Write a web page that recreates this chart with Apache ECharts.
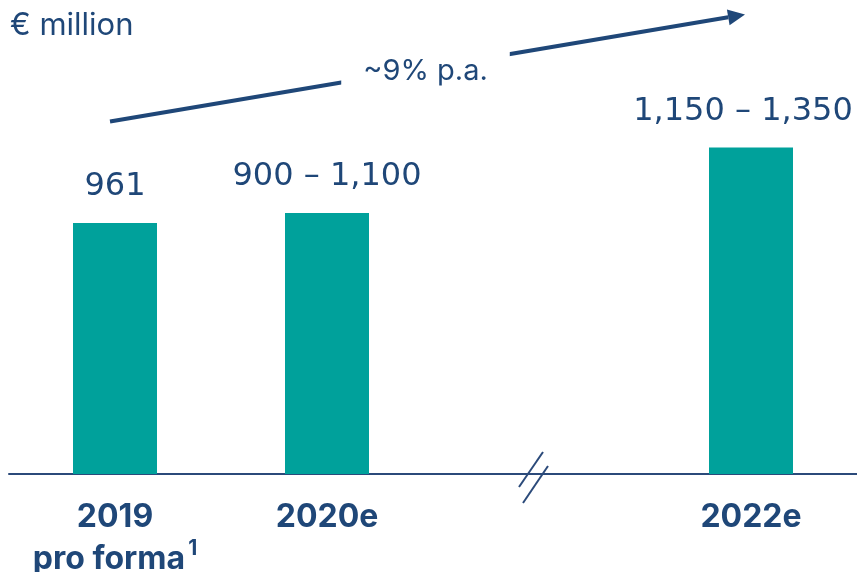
<!DOCTYPE html>
<html>
<head>
<meta charset="utf-8">
<script src="https://cdn.jsdelivr.net/npm/echarts@6/dist/echarts.min.js"></script>
<style>
html, body { margin: 0; padding: 0; background: #fff; }
#main { width: 857px; height: 572px; }
</style>
</head>
<body>
<div id="main"></div>
<script>
// data (ranges drawn at their midpoint)
var categories = ['2019', '2020e', '2021', '2022e'];
var values = [961, 1000, null, 1250];
var valueLabels = ['961', '900 – 1,100', '', '1,150 – 1,350'];
var growthText = '~9% p.a.';
var unitText = '€ million';

var navy = '#1f4778';
var teal = '#00a19b';
var font = 'Inter';
var numFont = 'DejaVu Sans';

var chart = echarts.init(document.getElementById('main'));

// last label sits a little left so it stays inside the picture
var barData = values.map(function (v, i) {
  var item = { value: v };
  if (i === values.length - 1) item.label = { offset: [-8, 0] };
  return item;
});

var option = {
  animation: false,
  title: {
    text: unitText,
    left: 5, top: 5,
    textStyle: { color: navy, fontSize: 31, fontWeight: 'normal', fontFamily: font }
  },
  grid: { left: 9, right: 0, top: 4, bottom: 98, outerBoundsMode: 'none' },
  xAxis: {
    type: 'category',
    data: categories,
    axisLine: { lineStyle: { color: '#2b4a7a', width: 2 } },
    axisTick: { show: false },
    axisLabel: {
      margin: 22,
      interval: 0,
      formatter: function (v, i) {
        if (v === '2021') return '';
        if (i === 0) return '{b|' + v + '}\n{b|pro forma}{s|1}';
        return '{b|' + v + '}';
      },
      rich: {
        b: { color: navy, fontSize: 32, fontWeight: 'bold', fontFamily: font, lineHeight: 42 },
        s: { color: navy, fontSize: 21, fontWeight: 'bold', fontFamily: font, verticalAlign: 'top', padding: [0, 0, 14, 3] }
      }
    }
  },
  yAxis: { type: 'value', min: 0, max: 1800, show: false, splitLine: { show: false } },
  series: [{
    type: 'bar',
    data: barData,
    barWidth: 84,
    itemStyle: { color: teal },
    label: {
      show: true,
      position: 'top',
      distance: 20,
      color: navy,
      fontSize: 32,
      fontFamily: numFont,
      formatter: function (p) { return valueLabels[p.dataIndex]; }
    }
  }]
};
chart.setOption(option);

// annotations placed through the chart's own scales
var breakPt = chart.convertToPixel({ seriesIndex: 0 }, ['2021', 0]);
var bx = breakPt[0] - 4, by = breakPt[1];
var a0 = chart.convertToPixel({ seriesIndex: 0 }, ['2019', 1350]);
var a1 = chart.convertToPixel({ seriesIndex: 0 }, ['2022e', 1760]);
var x0 = a0[0] - 5, y0 = a0[1], x1 = a1[0] - 6, y1 = a1[1];
var dx = x1 - x0, dy = y1 - y0, len = Math.sqrt(dx * dx + dy * dy);
var ux = dx / len, uy = dy / len;
var headL = 17, headW = 8;
var hbx = x1 - ux * headL, hby = y1 - uy * headL;

chart.setOption({
  graphic: [
    {
      type: 'line',
      shape: { x1: x0, y1: y0, x2: hbx, y2: hby },
      style: { stroke: navy, lineWidth: 4 }
    },
    {
      type: 'polygon',
      shape: { points: [[x1, y1], [hbx - uy * headW, hby + ux * headW], [hbx + uy * headW, hby - ux * headW]] },
      style: { fill: navy }
    },
    {
      type: 'text',
      x: (x0 + x1) / 2 - 2, y: (y0 + y1) / 2 + 3,
      style: {
        text: growthText, fill: navy, fontSize: 29, fontFamily: font,
        align: 'center', verticalAlign: 'middle',
        backgroundColor: '#fff', padding: [6, 22]
      }
    },
    {
      type: 'rect',
      shape: { x: bx - 7, y: by - 3, width: 14, height: 6 },
      style: { fill: '#fff' }
    },
    {
      type: 'line',
      shape: { x1: bx + 8, y1: by - 22, x2: bx - 16, y2: by + 13 },
      style: { stroke: '#2b4a7a', lineWidth: 2 }
    },
    {
      type: 'line',
      shape: { x1: bx + 13, y1: by - 8, x2: bx - 12, y2: by + 29 },
      style: { stroke: '#2b4a7a', lineWidth: 2 }
    }
  ]
});
</script>
</body>
</html>
